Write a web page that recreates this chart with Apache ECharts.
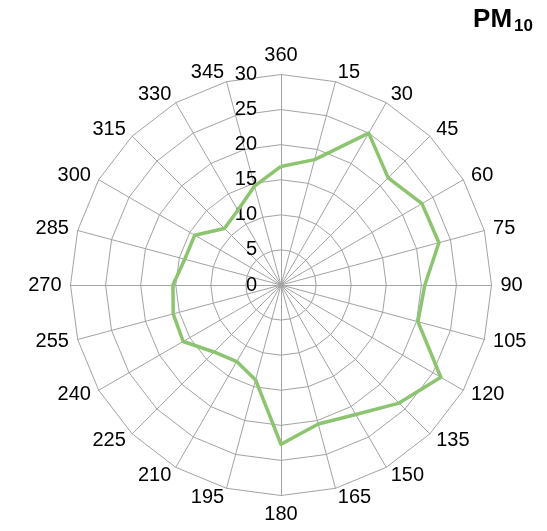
<!DOCTYPE html>
<html>
<head>
<meta charset="utf-8">
<script src="https://cdn.jsdelivr.net/npm/echarts@6/dist/echarts.min.js"></script>
<style>
html,body{margin:0;padding:0;background:#fff;}
#chart{width:547px;height:531px;}
</style>
</head>
<body>
<div id="chart"></div>
<script>
// Wind direction (degrees) and PM10 values
var directions = [0, 15, 30, 45, 60, 75, 90, 105, 120, 135, 150, 165, 180, 195, 210, 225, 240, 255, 270, 285, 300, 315, 330, 345];
var directionLabels = ['360', '15', '30', '45', '60', '75', '90', '105', '120', '135', '150', '165', '180', '195', '210', '225', '240', '255', '270', '285', '300', '315', '330', '345'];
var pm10Values = [16.9, 18.5, 25.0, 21.6, 23.2, 23.3, 20.5, 20.2, 26.3, 23.8, 21.3, 20.5, 22.7, 14.0, 12.6, 13.5, 16.1, 15.9, 15.4, 14.2, 14.2, 11.4, 12.3, 14.6];
var radialTicks = ['0', '5', '10', '15', '20', '25', '30'];
var radialMax = 30;
var radialStep = 5;

// ECharts radar goes counter-clockwise; reorder so directions go clockwise
var order = [0];
for (var i = directions.length - 1; i >= 1; i--) order.push(i);
var indicators = order.map(function (k) { return { name: directionLabels[k], min: 0, max: radialMax }; });
var seriesValues = order.map(function (k) { return pm10Values[k]; });

var cx = 281, cy = 285, R = 210.5;
var chart = echarts.init(document.getElementById('chart'), null, { renderer: 'canvas' });
var gridColor = '#a3a3a3';
chart.setOption({
  animation: false,
  backgroundColor: '#ffffff',
  textStyle: { fontFamily: 'Liberation Sans, Arial, sans-serif' },
  title: {
    text: '{a|PM}{b|10}',
    right: 9,
    top: 0,
    textStyle: {
      rich: {
        a: { fontSize: 26, fontWeight: 'bold', color: '#000', fontFamily: 'Liberation Sans', lineHeight: 30, verticalAlign: 'middle' },
        b: { fontSize: 17, fontWeight: 'bold', color: '#000', fontFamily: 'Liberation Sans', lineHeight: 14, verticalAlign: 'bottom', padding: [0, 0, 0, 2] }
      }
    }
  },
  radar: {
    center: [cx, cy],
    radius: R,
    startAngle: 90,
    splitNumber: radialMax / radialStep,
    shape: 'polygon',
    indicator: indicators,
    nameGap: 9,
    axisName: { color: '#000', fontSize: 20, fontFamily: 'Liberation Sans' },
    axisLine: { lineStyle: { color: gridColor, width: 1 } },
    splitLine: { lineStyle: { color: gridColor, width: 1 } },
    splitArea: { show: false },
    axisTick: { show: false },
    axisLabel: { show: false }
  },
  grid: { left: cx, top: cy - R, height: R, width: 1, containLabel: false },
  xAxis: { type: 'value', show: false },
  yAxis: {
    type: 'value', min: 0, max: radialMax, interval: radialStep,
    axisLine: { show: false }, axisTick: { show: false }, splitLine: { show: false },
    axisLabel: {
      color: '#000', fontSize: 20, fontFamily: 'Liberation Sans', margin: 24,
      formatter: function (v) { return radialTicks[Math.round(v / radialStep)]; }
    }
  },
  series: [{
    type: 'radar',
    symbol: 'none',
    lineStyle: { color: '#8cc46f', width: 3.5 },
    data: [{ value: seriesValues }]
  }]
});
</script>
</body>
</html>
